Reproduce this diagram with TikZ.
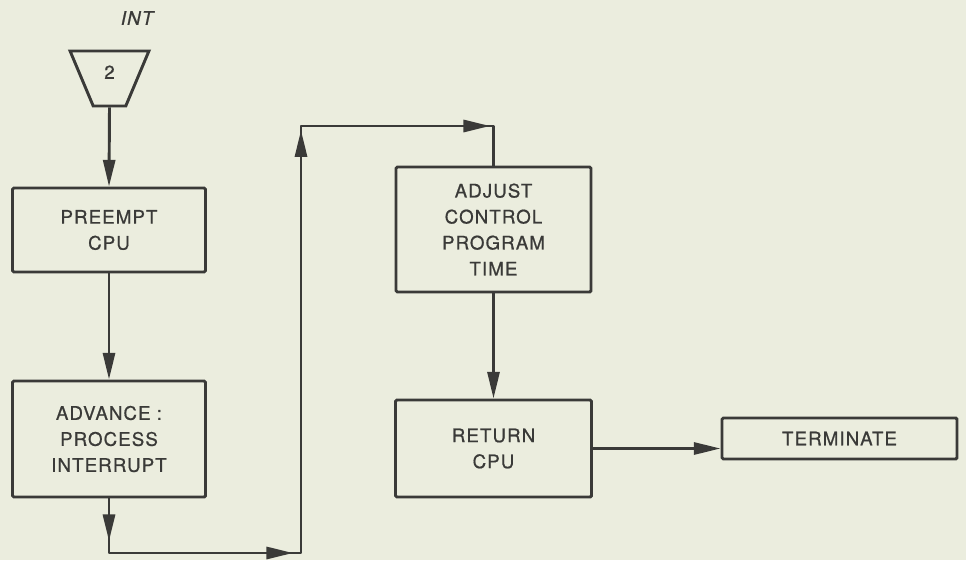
\documentclass[tikz,border=0pt]{standalone}
\usepackage{fontspec}
\setmainfont[LetterSpace=6,FakeBold=0.8]{TeX Gyre Heros}
\usepackage{tikz}
\usetikzlibrary{arrows.meta, positioning, shapes.geometric, decorations.markings}

\definecolor{paper}{HTML}{EBEDDE}
\definecolor{ink}{HTML}{3A3A38}

\begin{document}
\begin{tikzpicture}[
  x=0.75pt, y=-0.75pt,
  >={Triangle[length=20pt,width=9pt]},
  lbl/.style={font=\fontsize{14}{19.5}\selectfont, text=ink},
  box/.style={draw=ink, line width=2.2pt, rectangle, rounded corners=1pt, align=center, inner sep=0pt, lbl},
  intsym/.style={draw=ink, line width=2.2pt, trapezium, shape border rotate=180, trapezium left angle=72, trapezium right angle=72, trapezium stretches=true, minimum width=59.25pt, minimum height=41.25pt, inner sep=1pt, text depth=9.5pt, lbl},
  arrow/.style={->, draw=ink, line width=2.2pt},
  link/.style={draw=ink, line width=2.2pt, line join=round}
]
\fill[paper] (0,0) rectangle (966,560);

% entry point
\node[lbl, font=\fontsize{14}{19.5}\selectfont\itshape] (intlbl) at (137,18) {INT};
\node[intsym] (int) at (109.5,78.5) {2};

% boxes
\node[box, minimum width=144.75pt, minimum height=63pt]   (pre)  at (109,230)     {PREEMPT\\CPU};
\node[box, minimum width=144.75pt, minimum height=87pt]   (adv)  at (109,439)     {ADVANCE :\\PROCESS\\INTERRUPT};
\node[box, minimum width=146.25pt, minimum height=93.75pt] (adj) at (493.5,229.5) {ADJUST\\CONTROL\\PROGRAM\\TIME};
\node[box, minimum width=147pt, minimum height=72.75pt]   (ret)  at (493.5,448.5) {RETURN\\CPU};
\node[box, minimum width=176.25pt, minimum height=30.75pt] (term) at (839.5,438.5) {TERMINATE};

% route round to the top
\coordinate (bl) at (109,553);
\coordinate (br) at (301,553);
\coordinate (tl) at (301,126);
\coordinate (tr) at (493.5,126);

\draw[arrow] (int.south) -- (pre.north);
\draw[arrow] (pre.south) -- (adv.north);
\draw[link, postaction={decorate}, decoration={markings,
    mark=at position 32pt with {\arrow{>}},
    mark=at position 179pt with {\arrow{>}},
    mark=at position 502pt with {\arrow{>}},
    mark=at position 647pt with {\arrow{>}}}]
  (adv.south) -- (bl) -- (br) -- (tl) -- (tr) -- (adj.north);
\draw[arrow] (adj.south) -- (ret.north);
\draw[arrow] (ret.east) -- (ret.east -| term.west);
\end{tikzpicture}
\end{document}
